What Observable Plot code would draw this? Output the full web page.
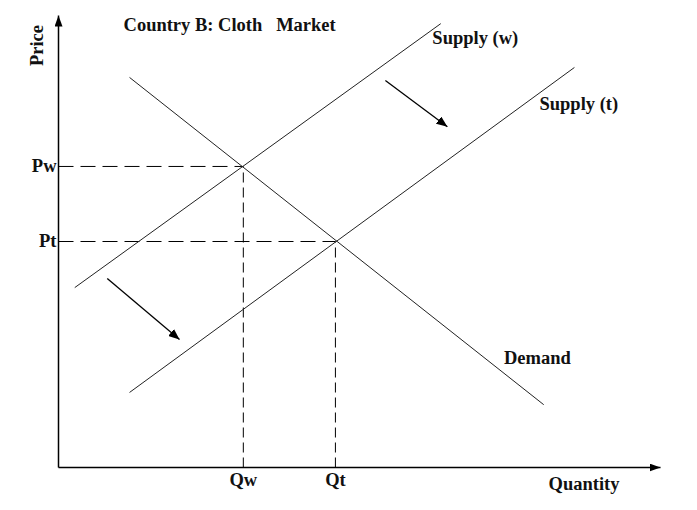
<!DOCTYPE html>
<html><head><meta charset="utf-8">
<script src="https://cdn.jsdelivr.net/npm/d3@7"></script>
<script src="https://cdn.jsdelivr.net/npm/@observablehq/plot@0.6"></script>
<style>body{margin:0;background:#fff}</style>
</head><body><div id="chart"></div>
<script>
// Curves (endpoints in Quantity / Price units, 0–100)
const curveNames = ["Supply (w)", "Supply (t)", "Demand"];
const curveStartQ = [2.7, 11.8, 11.8];
const curveStartP = [39.8, 16.6, 86.3];
const curveEndQ = [63.5, 85.7, 80.6];
const curveEndP = [98.2, 88.5, 13.9];
// Curve label anchors
const curveLabelQ = [62.1, 79.9, 74.0];
const curveLabelP = [93.6, 79.0, 22.8];
// Equilibria
const priceLabels = ["Pw", "Pt"];
const qtyLabels = ["Qw", "Qt"];
const eqQ = [30.7, 46.0];
const eqP = [66.6, 50.0];
// Shift arrows
const shiftStartQ = [54.3, 8.1];
const shiftStartP = [85.6, 41.8];
const shiftEndQ = [64.6, 20.1];
const shiftEndP = [75.4, 28.3];
// Titles
const title = "Country B: Cloth\u00a0\u00a0\u00a0Market";
const titleQ = [10.8];
const titleP = [96.5];
const xTitle = "Quantity";
const yTitle = "Price";
const axisMax = 100;

const curves = curveNames.map((name, i) => ({name, q1: curveStartQ[i], p1: curveStartP[i], q2: curveEndQ[i], p2: curveEndP[i], lq: curveLabelQ[i], lp: curveLabelP[i]}));
const eqs = priceLabels.map((pl, i) => ({pl, ql: qtyLabels[i], q: eqQ[i], p: eqP[i]}));
const shifts = shiftStartQ.map((q, i) => ({q1: q, p1: shiftStartP[i], q2: shiftEndQ[i], p2: shiftEndP[i]}));
const axes = [{q1: 0, p1: 0, q2: 0, p2: axisMax}, {q1: 0, p1: 0, q2: axisMax, p2: 0}];

const filledArrow = (len, half) => (color, context) => {
  const m = d3.create("svg:marker")
    .attr("viewBox", `${-len} ${-half} ${len} ${2 * half}`)
    .attr("markerWidth", len).attr("markerHeight", 2 * half)
    .attr("markerUnits", "userSpaceOnUse")
    .attr("orient", "auto")
    .attr("refX", 0).attr("refY", 0)
    .attr("fill", color).attr("stroke", "none");
  m.append("path").attr("d", `M${-len},${-half}L0,0L${-len},${half}Z`);
  return m.node();
};

const font = {fontFamily: "Liberation Serif, Times New Roman, serif", fontWeight: "bold", fontSize: 18.5, fill: "#111"};

const chart = Plot.plot({
  width: 697, height: 510,
  marginLeft: 58, marginRight: 37, marginTop: 15, marginBottom: 43,
  x: {domain: [0, axisMax], axis: null},
  y: {domain: [0, axisMax], axis: null},
  style: {background: "#fff"},
  marks: [
    // dashed guides
    Plot.link(eqs, {x1: 0, y1: "p", x2: "q", y2: "p", stroke: "#000", strokeWidth: 1, strokeDasharray: "15,7"}),
    Plot.link(eqs, {x1: "q", y1: 0, x2: "q", y2: "p", stroke: "#000", strokeWidth: 1, strokeDasharray: "10,5"}),
    // curves
    Plot.link(curves, {x1: "q1", y1: "p1", x2: "q2", y2: "p2", stroke: "#222", strokeWidth: 1}),
    // shift arrows
    Plot.link(shifts, {x1: "q1", y1: "p1", x2: "q2", y2: "p2", stroke: "#000", strokeWidth: 1.3, markerEnd: filledArrow(11, 4.5)}),
    // axes
    Plot.link(axes, {x1: "q1", y1: "p1", x2: "q2", y2: "p2", stroke: "#000", strokeWidth: 1.5, markerEnd: filledArrow(11, 4)}),
    // labels
    Plot.text(curves, {x: "lq", y: "lp", text: "name", textAnchor: "start", lineAnchor: "bottom", ...font}),
    Plot.text(eqs, {x: 0, y: "p", text: "pl", textAnchor: "end", lineAnchor: "middle", dx: -2, ...font}),
    Plot.text(eqs, {x: "q", y: 0, text: "ql", textAnchor: "middle", lineAnchor: "bottom", dy: 18, ...font}),
    Plot.text([title], {x: titleQ, y: titleP, text: d => d, textAnchor: "start", lineAnchor: "bottom", ...font}),
    Plot.text([xTitle], {x: axisMax, y: 0, text: d => d, textAnchor: "end", lineAnchor: "bottom", dx: -41, dy: 22, ...font}),
    Plot.text([yTitle], {x: 0, y: axisMax, text: d => d, textAnchor: "middle", lineAnchor: "bottom", rotate: -90, dx: -16, dy: 30, ...font})
  ]
});
document.getElementById("chart").append(chart);
</script>
</body></html>
